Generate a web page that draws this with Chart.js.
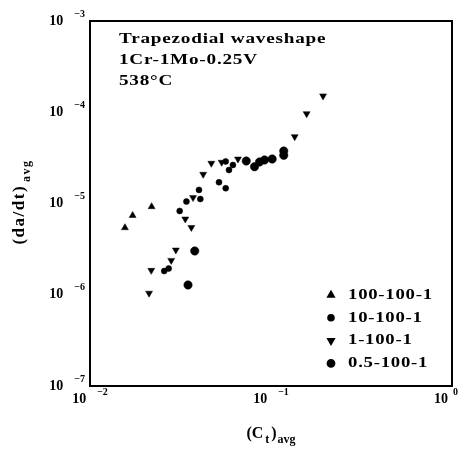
<!DOCTYPE html>
<html>
<head>
<meta charset="utf-8">
<script src="https://cdn.jsdelivr.net/npm/chart.js@4.4.1/dist/chart.umd.min.js"></script>
<style>
  html, body { margin: 0; padding: 0; background: #fff; }
  #wrap { width: 465px; height: 457px; }
</style>
</head>
<body>
<div id="wrap"><canvas id="c" width="465" height="457"></canvas></div>
<script>
// Average crack growth rate vs. average C(t), trapezoidal hold-time tests
const seriesLabels = ['100-100-1', '10-100-1', '1-100-1', '0.5-100-1'];

// [ (Ct)avg , (da/dt)avg ]
const hold100x = [0.0156, 0.0172, 0.0219];
const hold100y = [5.43e-6, 7.38e-6, 9.23e-6];

const hold10x = [0.0257, 0.0272, 0.0313, 0.0341, 0.0400, 0.0407, 0.0516, 0.0562, 0.0586, 0.0616, 0.0562];
const hold10y = [1.82e-6, 1.94e-6, 8.28e-6, 1.05e-5, 1.41e-5, 1.12e-5, 1.71e-5, 1.47e-5, 2.33e-5, 2.64e-5, 2.89e-5];

const hold1x = [0.0212, 0.0218, 0.0281, 0.0298, 0.0336, 0.0363, 0.0371, 0.0422, 0.0468, 0.0534, 0.0657, 0.1352, 0.1574, 0.1939];
const hold1y = [1.04e-6, 1.85e-6, 2.38e-6, 3.09e-6, 6.76e-6, 5.46e-6, 1.16e-5, 2.09e-5, 2.76e-5, 2.83e-5, 3.07e-5, 5.40e-5, 9.64e-5, 1.51e-4];

const hold05x = [0.0348, 0.0379, 0.0730, 0.0811, 0.0864, 0.0921, 0.1015, 0.1176, 0.1176];
const hold05y = [1.28e-6, 3.02e-6, 2.92e-5, 2.53e-5, 2.85e-5, 3.00e-5, 3.07e-5, 3.76e-5, 3.37e-5];

const xTickExps = [-2, -1, 0];
const yTickExps = [-3, -4, -5, -6, -7];
const noteLines = ['Trapezodial waveshape', '1Cr-1Mo-0.25V', '538°C'];

const pts = (xs, ys) => xs.map((x, i) => ({ x: x, y: ys[i] }));

const FONT = '"Liberation Serif", "DejaVu Serif", serif';

const markerStyles = [
  { pointStyle: 'triangle', rotation: 0, radius: 4, legendRadius: 3.3 },
  { pointStyle: 'circle', rotation: 0, radius: 3, legendRadius: 2.8 },
  { pointStyle: 'triangle', rotation: 180, radius: 4, legendRadius: 3.3 },
  { pointStyle: 'circle', rotation: 0, radius: 4.2, legendRadius: 3.4 }
];
const seriesData = [pts(hold100x, hold100y), pts(hold10x, hold10y), pts(hold1x, hold1y), pts(hold05x, hold05y)];

const datasets = seriesLabels.map((lab, i) => ({
  label: lab,
  data: seriesData[i],
  pointStyle: markerStyles[i].pointStyle,
  rotation: markerStyles[i].rotation,
  pointRadius: markerStyles[i].radius,
  backgroundColor: '#000',
  borderColor: '#000',
  borderWidth: 0.5,
  showLine: false
}));

// Draw a run of text pieces, some raised (sup) or lowered (sub)
function richWidth(ctx, parts, size) {
  let w = 0;
  parts.forEach(p => {
    ctx.font = 'bold ' + (p.s ? Math.round(size * 0.72) : size) + 'px ' + FONT;
    w += ctx.measureText(p.t).width + (p.gap || 0);
  });
  return w;
}
function drawRich(ctx, parts, x, y, size, align) {
  const w = richWidth(ctx, parts, size);
  let cx = align === 'center' ? x - w / 2 : (align === 'right' ? x - w : x);
  ctx.textBaseline = 'middle';
  ctx.textAlign = 'left';
  parts.forEach(p => {
    const fs = p.s ? Math.round(size * 0.72) : size;
    ctx.font = 'bold ' + fs + 'px ' + FONT;
    let dy = 0;
    if (p.s === 'sup') dy = -size * 0.5;
    if (p.s === 'sub') dy = size * 0.4;
    cx += (p.gap || 0);
    ctx.fillText(p.t, cx, y + dy);
    cx += ctx.measureText(p.t).width;
  });
}

// Wide, heavy lettering for the in-plot notes and the key
function drawWide(ctx, text, x, y, size, stretch) {
  ctx.save();
  ctx.translate(x, y);
  ctx.scale(stretch, 1);
  ctx.font = 'bold ' + size + 'px ' + FONT;
  ctx.letterSpacing = '0.6px';
  ctx.textAlign = 'left';
  ctx.textBaseline = 'middle';
  ctx.fillText(text, 0, 0);
  ctx.restore();
}

const decorations = {
  id: 'decorations',
  afterDraw(chart) {
    const ctx = chart.ctx;
    const a = chart.chartArea;
    const xs = chart.scales.x, ys = chart.scales.y;
    ctx.save();
    ctx.fillStyle = '#000';
    ctx.strokeStyle = '#000';

    // frame
    ctx.lineWidth = 2;
    ctx.strokeRect(a.left, a.top, a.right - a.left, a.bottom - a.top);

    // y tick labels
    yTickExps.forEach(e => {
      const py = ys.getPixelForValue(Math.pow(10, e));
      drawRich(ctx, [{ t: '10' }, { t: String(e).replace('-', '\u2212'), s: 'sup', gap: 11 }], a.left - 5, py, 14, 'right');
    });
    // x tick labels
    xTickExps.forEach(e => {
      const px = xs.getPixelForValue(Math.pow(10, e));
      const lbl = e === 0 ? '0' : String(e).replace('-', '\u2212');
      const shift = e === 0 ? -6 : 0;
      drawRich(ctx, [{ t: '10' }, { t: lbl, s: 'sup', gap: e === 0 ? 5 : 11 }], px + shift, a.bottom + 13, 14, 'center');
    });

    // axis titles
    drawRich(ctx, [{ t: '(C' }, { t: 't', s: 'sub', gap: 2 }, { t: ')', gap: 2 }, { t: 'avg', s: 'sub', gap: 1 }],
      271, a.bottom + 48, 16, 'center');
    ctx.save();
    ctx.translate(20, 202);
    ctx.rotate(-Math.PI / 2);
    ctx.letterSpacing = '1.5px';
    drawRich(ctx, [{ t: '(da/dt)' }, { t: 'avg', s: 'sub', gap: 3 }], 0, 0, 17, 'center');
    ctx.restore();

    // annotation block
    noteLines.forEach((t, i) => drawWide(ctx, t, a.left + 29, a.top + 18 + i * 21, 15, 1.28));

    // legend
    chart.data.datasets.forEach((ds, i) => {
      const ly = a.top + 274 + i * 22.8;
      const mx = a.left + 241;
      Chart.helpers.drawPoint(ctx, {
        pointStyle: ds.pointStyle, rotation: ds.rotation, radius: markerStyles[i].legendRadius, borderWidth: 0.5
      }, mx, ly);
      ctx.fill();
      drawWide(ctx, ds.label, a.left + 258, ly, 15, 1.25);
    });
    ctx.restore();
  }
};

new Chart(document.getElementById('c'), {
  type: 'scatter',
  data: { datasets: datasets },
  options: {
    responsive: false,
    animation: false,
    layout: { padding: { left: 90, right: 13, top: 21, bottom: 71 } },
    plugins: { legend: { display: false }, tooltip: { enabled: false } },
    scales: {
      x: {
        type: 'logarithmic', min: 0.01, max: 1,
        grid: { display: false, drawTicks: false },
        border: { display: false },
        ticks: { display: false }
      },
      y: {
        type: 'logarithmic', min: 1e-7, max: 1e-3,
        grid: { display: false, drawTicks: false },
        border: { display: false },
        ticks: { display: false }
      }
    }
  },
  plugins: [decorations]
});
</script>
</body>
</html>
